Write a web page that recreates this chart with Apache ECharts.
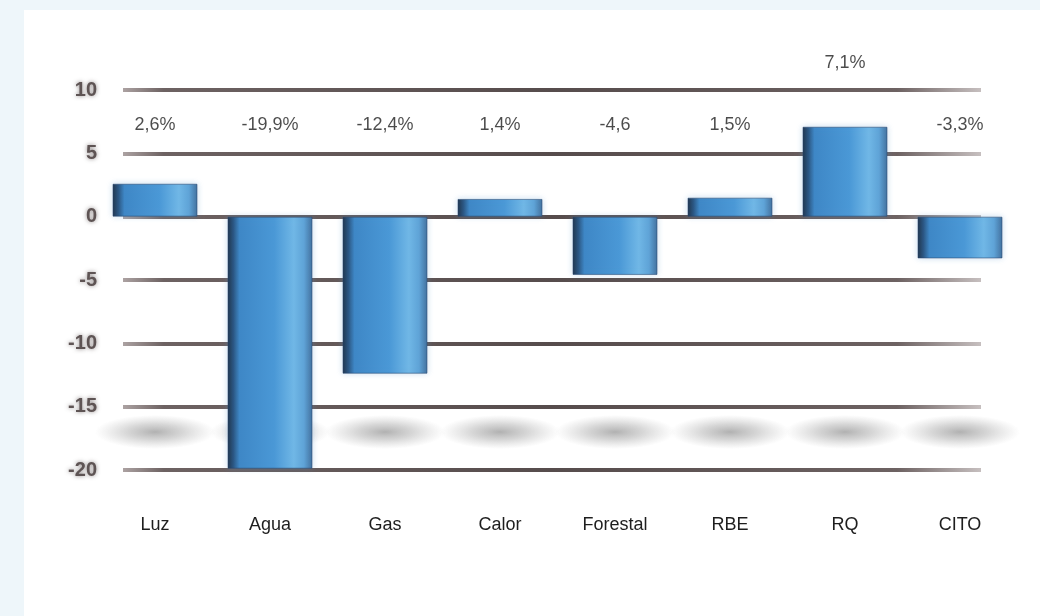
<!DOCTYPE html>
<html>
<head>
<meta charset="utf-8">
<script src="https://cdn.jsdelivr.net/npm/echarts@6/dist/echarts.min.js"></script>
<style>
html,body{margin:0;padding:0;width:1040px;height:616px;background:#eef6fa;overflow:hidden;}
#chart{position:absolute;left:24px;top:10px;width:1016px;height:606px;background:#ffffff;}
</style>
</head>
<body>
<div id="chart"></div>
<script>
const categories = ["Luz", "Agua", "Gas", "Calor", "Forestal", "RBE", "RQ", "CITO"];
const values = [2.6, -19.9, -12.4, 1.4, -4.6, 1.5, 7.1, -3.3];
const valueLabels = ["2,6%", "-19,9%", "-12,4%", "1,4%", "-4,6", "1,5%", "7,1%", "-3,3%"];
const yTicks = [-20, -15, -10, -5, 0, 5, 10];

const yMin = yTicks[0], yMax = yTicks[yTicks.length - 1], yStep = yTicks[1] - yTicks[0];
// label row placement (style): labels sit in the band between the top two gridlines,
// except where a bar reaches into it, then above the top gridline
const labelRow = yMax - 2.8;
const labelAbove = yMax + 2.1;
const shadowRow = yMin + 3;

const chart = echarts.init(document.getElementById('chart'), null, {renderer: 'canvas'});

const barGradient = new echarts.graphic.LinearGradient(0, 0, 1, 0, [
  {offset: 0, color: '#1f3249'},
  {offset: 0.07, color: '#2a5683'},
  {offset: 0.14, color: '#3e87c6'},
  {offset: 0.55, color: '#4a98d6'},
  {offset: 0.78, color: '#70b7e6'},
  {offset: 0.9, color: '#5ea3d7'},
  {offset: 1, color: '#416f9c'}
]);

const lineGradient = new echarts.graphic.LinearGradient(0, 0, 1, 0, [
  {offset: 0, color: '#b0a6a6'},
  {offset: 0.05, color: '#6d6262'},
  {offset: 0.5, color: '#564c4c'},
  {offset: 0.9, color: '#6d6262'},
  {offset: 1, color: '#c9c2c2'}
]);

const shadowGradient = new echarts.graphic.RadialGradient(0.5, 0.5, 0.5, [
  {offset: 0, color: 'rgba(125,125,125,0.75)'},
  {offset: 0.45, color: 'rgba(140,140,140,0.45)'},
  {offset: 1, color: 'rgba(160,160,160,0)'}
]);

const font = '"Liberation Sans", Arial, sans-serif';

chart.setOption({
  animation: false,
  grid: [
    {left: 73.5, top: 80, width: 920, height: 380},
    {left: 99, top: 80, width: 858, height: 380}
  ],
  xAxis: [
    {
      type: 'category', gridIndex: 0, data: categories, position: 'bottom',
      axisLine: {show: false, onZero: false}, axisTick: {show: false},
      axisLabel: {margin: 46, color: '#1e1e1e', fontFamily: font, fontSize: 18}
    },
    {
      type: 'category', gridIndex: 1, data: categories, show: false
    }
  ],
  yAxis: [
    {
      type: 'value', gridIndex: 0, min: yMin, max: yMax, interval: yStep,
      show: false, splitLine: {show: false}
    },
    {
      type: 'value', gridIndex: 1, min: yMin, max: yMax, interval: yStep,
      axisLine: {show: false}, axisTick: {show: false},
      axisLabel: {
        margin: 26, color: '#5e5454', fontFamily: font,
        fontSize: 20, fontWeight: 'bold',
        textShadowColor: 'rgba(90,80,80,0.7)', textShadowBlur: 4
      },
      splitLine: {show: true, lineStyle: {color: lineGradient, width: 4}}
    }
  ],
  series: [
    {
      type: 'scatter', xAxisIndex: 0, yAxisIndex: 0, silent: true, clip: false, z: 1,
      data: categories.map(() => shadowRow),
      symbol: 'circle', symbolSize: [120, 34],
      itemStyle: {color: shadowGradient}
    },
    {
      type: 'bar', xAxisIndex: 0, yAxisIndex: 0, data: values, barWidth: 85, z: 3,
      itemStyle: {
        color: barGradient, borderColor: 'rgba(40,70,110,0.55)', borderWidth: 1,
        shadowBlur: 6, shadowColor: 'rgba(90,150,210,0.35)'
      }
    },
    {
      type: 'scatter', xAxisIndex: 0, yAxisIndex: 0, silent: true, clip: false, z: 4,
      data: values.map(v => (v > labelRow - 3 ? labelAbove : labelRow)),
      symbolSize: 1, itemStyle: {color: 'rgba(0,0,0,0)'},
      label: {
        show: true, position: 'inside', color: '#1e1e1e', fontFamily: font, fontSize: 18,
        formatter: p => valueLabels[p.dataIndex]
      }
    }
  ]
});
</script>
</body>
</html>
